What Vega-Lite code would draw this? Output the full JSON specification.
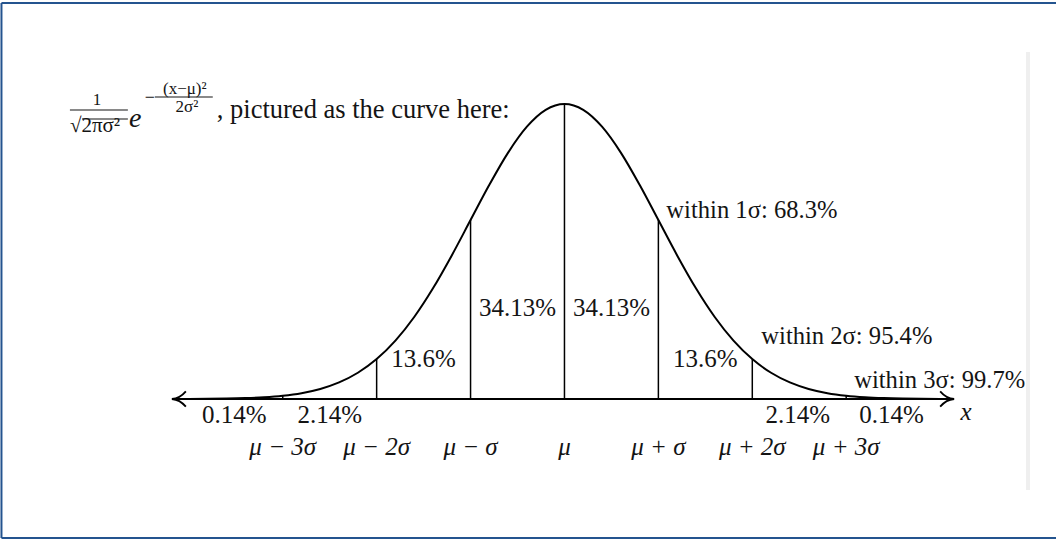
{
  "$schema": "https://vega.github.io/schema/vega-lite/v6.json",
  "width": 1057,
  "height": 541,
  "autosize": {"type": "fit", "contains": "padding"},
  "padding": 0,
  "background": "white",
  "config": {
    "view": {"stroke": null},
    "text": {"font": "Liberation Serif", "color": "#141414"}
  },
  "datasets": {
    "curve": [
      {"x": -4.0, "y": 0.0003}, {"x": -3.8, "y": 0.0007}, {"x": -3.6, "y": 0.0015},
      {"x": -3.4, "y": 0.0031}, {"x": -3.2, "y": 0.0060}, {"x": -3.0, "y": 0.0111},
      {"x": -2.8, "y": 0.0198}, {"x": -2.6, "y": 0.0340}, {"x": -2.4, "y": 0.0561},
      {"x": -2.2, "y": 0.0889}, {"x": -2.0, "y": 0.1353}, {"x": -1.8, "y": 0.1979},
      {"x": -1.6, "y": 0.2780}, {"x": -1.4, "y": 0.3753}, {"x": -1.2, "y": 0.4868},
      {"x": -1.0, "y": 0.6065}, {"x": -0.8, "y": 0.7261}, {"x": -0.6, "y": 0.8353},
      {"x": -0.4, "y": 0.9231}, {"x": -0.2, "y": 0.9802}, {"x": 0.0, "y": 1.0},
      {"x": 0.2, "y": 0.9802}, {"x": 0.4, "y": 0.9231}, {"x": 0.6, "y": 0.8353},
      {"x": 0.8, "y": 0.7261}, {"x": 1.0, "y": 0.6065}, {"x": 1.2, "y": 0.4868},
      {"x": 1.4, "y": 0.3753}, {"x": 1.6, "y": 0.2780}, {"x": 1.8, "y": 0.1979},
      {"x": 2.0, "y": 0.1353}, {"x": 2.2, "y": 0.0889}, {"x": 2.4, "y": 0.0561},
      {"x": 2.6, "y": 0.0340}, {"x": 2.8, "y": 0.0198}, {"x": 3.0, "y": 0.0111},
      {"x": 3.2, "y": 0.0060}, {"x": 3.4, "y": 0.0031}, {"x": 3.6, "y": 0.0015},
      {"x": 3.8, "y": 0.0007}, {"x": 4.0, "y": 0.0003}
    ],
    "dividers": [
      {"x": -3, "y": 0.0111, "y0": 0}, {"x": -2, "y": 0.1353, "y0": 0},
      {"x": -1, "y": 0.6065, "y0": 0}, {"x": 0, "y": 1.0, "y0": 0},
      {"x": 1, "y": 0.6065, "y0": 0}, {"x": 2, "y": 0.1353, "y0": 0},
      {"x": 3, "y": 0.0111, "y0": 0}
    ],
    "axisLine": [{"x": -4.15, "x2": 4.13, "y": 0}],
    "arrowHeads": [
      {"x": -4.106, "y": 0, "dir": "left"},
      {"x": 4.075, "y": 0, "dir": "right"}
    ],
    "frameV": [{"x": -5.995, "y": 1.3424, "y0": -0.4712}],
    "frameH": [
      {"x": -5.995, "x2": 5.234, "y": 1.3424},
      {"x": -5.995, "x2": 5.234, "y": -0.4712}
    ],
    "sideBar": [{"x": 4.915, "x2": 4.957, "y": 1.1763, "y0": -0.3085}],
    "shares": [
      {"x": -0.5, "y": 0.2814, "t": "34.13%"}, {"x": 0.5, "y": 0.2814, "t": "34.13%"},
      {"x": -1.5, "y": 0.1085, "t": "13.6%"}, {"x": 1.5, "y": 0.1085, "t": "13.6%"},
      {"x": -3.516, "y": -0.0814, "t": "0.14%"}, {"x": -2.5, "y": -0.0814, "t": "2.14%"},
      {"x": 2.484, "y": -0.0814, "t": "2.14%"}, {"x": 3.484, "y": -0.0814, "t": "0.14%"}
    ],
    "within": [
      {"x": 1.085, "y": 0.6136, "t": "within 1σ: 68.3%"},
      {"x": 2.096, "y": 0.1864, "t": "within 2σ: 95.4%"},
      {"x": 3.085, "y": 0.0373, "t": "within 3σ: 99.7%"}
    ],
    "ticks": [
      {"x": -3, "y": -0.1898, "t": "μ − 3σ"}, {"x": -2, "y": -0.1898, "t": "μ − 2σ"},
      {"x": -1, "y": -0.1898, "t": "μ − σ"}, {"x": 0, "y": -0.1898, "t": "μ"},
      {"x": 1, "y": -0.1898, "t": "μ + σ"}, {"x": 2, "y": -0.1898, "t": "μ + 2σ"},
      {"x": 3, "y": -0.1898, "t": "μ + 3σ"}
    ],
    "xName": [{"x": 4.277, "y": -0.0712, "t": "x"}],
    "fracOne": [{"x": -4.979, "y": 0.9966, "t": "1"}],
    "fracRoot": [{"x": -5.266, "y": 0.9051, "t": "√2πσ²"}],
    "fracBars": [
      {"x": -5.266, "x2": -4.649, "y": 0.9797},
      {"x": -5.138, "x2": -4.649, "y": 0.9492},
      {"x": -4.362, "x2": -3.745, "y": 1.0237}
    ],
    "expBase": [{"x": -4.638, "y": 0.922, "t": "e"}],
    "expMinus": [{"x": -4.415, "y": 1.0203, "t": "−"}],
    "expParts": [
      {"x": -4.043, "y": 1.0339, "t": "(x−μ)²"},
      {"x": -4.021, "y": 0.9729, "t": "2σ²"}
    ],
    "sentence": [{"x": -3.702, "y": 0.9525, "t": ", pictured as the curve here:"}]
  },
  "encoding": {
    "x": {"field": "x", "type": "quantitative", "scale": {"domain": [-6.0106, 5.234], "nice": false, "zero": false}, "axis": null},
    "y": {"field": "y", "type": "quantitative", "scale": {"domain": [-0.48136, 1.35254], "nice": false, "zero": false}, "axis": null}
  },
  "layer": [
    {
      "data": {"name": "sideBar"},
      "mark": {"type": "rect", "color": "#efefef"},
      "encoding": {"x2": {"field": "x2"}, "y2": {"field": "y0"}}
    },
    {
      "data": {"name": "frameV"},
      "mark": {"type": "rule", "color": "#24548f", "strokeWidth": 2},
      "encoding": {"y2": {"field": "y0"}}
    },
    {
      "data": {"name": "frameH"},
      "mark": {"type": "rule", "color": "#24548f", "strokeWidth": 2},
      "encoding": {"x2": {"field": "x2"}}
    },
    {
      "data": {"name": "axisLine"},
      "mark": {"type": "rule", "color": "#000000", "strokeWidth": 1.8},
      "encoding": {"x2": {"field": "x2"}}
    },
    {
      "data": {"name": "dividers"},
      "mark": {"type": "rule", "color": "#000000", "strokeWidth": 1.5},
      "encoding": {"y2": {"field": "y0"}}
    },
    {
      "data": {"name": "curve"},
      "mark": {"type": "line", "color": "#000000", "strokeWidth": 2, "interpolate": "monotone"}
    },
    {
      "data": {"name": "arrowHeads"},
      "mark": {"type": "point", "filled": false, "color": "#000000", "strokeWidth": 1.8, "size": 196, "opacity": 1},
      "encoding": {
        "shape": {
          "field": "dir", "type": "nominal", "legend": null,
          "scale": {
            "domain": ["left", "right"],
            "range": [
              "M 1 -1.1 C 0.4 -0.4 -0.3 -0.05 -1 0 C -0.3 0.05 0.4 0.4 1 1.1",
              "M -1 -1.1 C -0.4 -0.4 0.3 -0.05 1 0 C 0.3 0.05 -0.4 0.4 -1 1.1"
            ]
          }
        }
      }
    },
    {
      "data": {"name": "shares"},
      "mark": {"type": "text", "fontSize": 25, "align": "center", "baseline": "alphabetic"},
      "encoding": {"text": {"field": "t"}}
    },
    {
      "data": {"name": "within"},
      "mark": {"type": "text", "fontSize": 24.6, "align": "left", "baseline": "alphabetic"},
      "encoding": {"text": {"field": "t"}}
    },
    {
      "data": {"name": "ticks"},
      "mark": {"type": "text", "fontSize": 25, "fontStyle": "italic", "align": "center", "baseline": "alphabetic"},
      "encoding": {"text": {"field": "t"}}
    },
    {
      "data": {"name": "xName"},
      "mark": {"type": "text", "fontSize": 25, "fontStyle": "italic", "align": "center", "baseline": "alphabetic"},
      "encoding": {"text": {"field": "t"}}
    },
    {
      "data": {"name": "fracOne"},
      "mark": {"type": "text", "fontSize": 17, "align": "center", "baseline": "alphabetic"},
      "encoding": {"text": {"field": "t"}}
    },
    {
      "data": {"name": "fracRoot"},
      "mark": {"type": "text", "fontSize": 21, "align": "left", "baseline": "alphabetic"},
      "encoding": {"text": {"field": "t"}}
    },
    {
      "data": {"name": "fracBars"},
      "mark": {"type": "rule", "color": "#141414", "strokeWidth": 1.2},
      "encoding": {"x2": {"field": "x2"}}
    },
    {
      "data": {"name": "expBase"},
      "mark": {"type": "text", "fontSize": 28, "fontStyle": "italic", "align": "left", "baseline": "alphabetic"},
      "encoding": {"text": {"field": "t"}}
    },
    {
      "data": {"name": "expMinus"},
      "mark": {"type": "text", "fontSize": 18, "align": "center", "baseline": "middle"},
      "encoding": {"text": {"field": "t"}}
    },
    {
      "data": {"name": "expParts"},
      "mark": {"type": "text", "fontSize": 17, "align": "center", "baseline": "alphabetic"},
      "encoding": {"text": {"field": "t"}}
    },
    {
      "data": {"name": "sentence"},
      "mark": {"type": "text", "fontSize": 26.5, "align": "left", "baseline": "alphabetic"},
      "encoding": {"text": {"field": "t"}}
    }
  ]
}
